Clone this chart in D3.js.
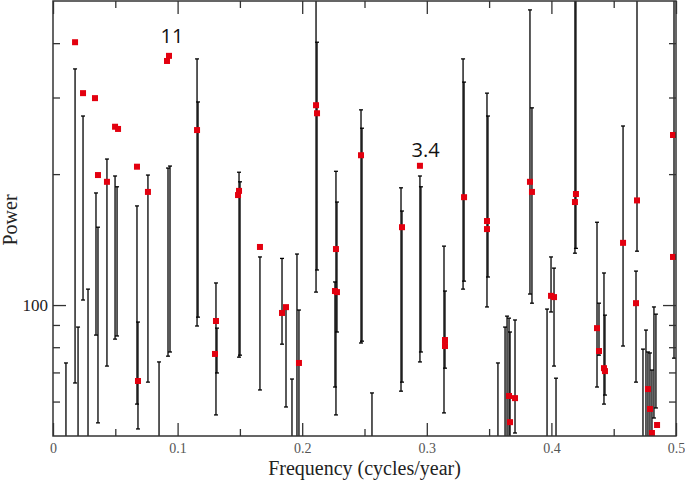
<!doctype html>
<html lang="en">
  <head>
    <meta charset="utf-8">
    <title>Power spectrum</title>
    <style>
      body { margin: 0; background: #fff; }
      .bar { stroke: #000; stroke-width: 1.3; }
      .pt { fill: #e3000f; }
      .tick text { font-family: "Liberation Serif", "DejaVu Serif", serif; }
    </style>
  </head>
  <body>
    <div id="chart"></div>
    <script src="https://cdn.jsdelivr.net/npm/d3@7/dist/d3.min.js"></script>
    <script>
      // red points: frequency (cycles/year) and power
      const pointFreq = [0.0177, 0.0241, 0.0337, 0.0498, 0.0522, 0.0915, 0.0931, 0.1156, 0.0361, 0.0433,
                         0.0674, 0.0762, 0.0682, 0.1308, 0.1300, 0.1493, 0.1485, 0.1661, 0.1838, 0.1870,
                         0.1974, 0.2271, 0.2263, 0.2279, 0.2472, 0.2801, 0.2945, 0.2111, 0.2119, 0.3146,
                         0.3146, 0.3299, 0.3483, 0.3483, 0.3828, 0.3844, 0.4197, 0.4189, 0.4575, 0.4687,
                         0.4976, 0.3997, 0.4021, 0.4679, 0.4976, 0.3660, 0.3668, 0.3708, 0.4366, 0.4382,
                         0.4422, 0.4430, 0.4775, 0.4791, 0.4807, 0.4848];
      const pointPower = [402, 307, 299, 257, 254, 364, 374, 252.5, 199, 192,
                          208, 182, 66.9, 91.9, 77.2, 183, 179, 136, 95.9, 98.9,
                          73.6, 134.5, 107.7, 107.1, 221, 151, 209, 288, 276, 83.1,
                          80.5, 177, 156, 149.5, 192, 182, 180, 172.5, 139, 174,
                          129, 105, 104.3, 101, 246, 61.8, 53.8, 61.1, 88.5, 78.4,
                          71.6, 70.5, 64.1, 57.7, 50.8, 53];

      // error bars: frequency, lower and upper power
      const barFreq = [0.0177, 0.0241, 0.0281, 0.0345, 0.0361, 0.0433, 0.0498, 0.0514, 0.0104, 0.0201,
                       0.0674, 0.0682, 0.0762, 0.0851, 0.0923, 0.0939, 0.1156, 0.1164, 0.1308, 0.1316,
                       0.1493, 0.1501, 0.1661, 0.1838, 0.1870, 0.1918, 0.1958, 0.1974, 0.2111, 0.2119,
                       0.2263, 0.2271, 0.2279, 0.2472, 0.2480, 0.2560, 0.2793, 0.2801, 0.2945, 0.2953,
                       0.3138, 0.3146, 0.3291, 0.3299, 0.3483, 0.3491, 0.3828, 0.3844, 0.4189, 0.4197,
                       0.4575, 0.4687, 0.4679, 0.4984, 0.3965, 0.3997, 0.4021, 0.4037, 0.4366, 0.4382,
                       0.4422, 0.4430, 0.4823, 0.4839, 0.4735, 0.4759, 0.4775, 0.4791, 0.4807, 0.3571,
                       0.3628, 0.3644, 0.3660, 0.3668, 0.3708];
      const barLow = [66.2, 102.7, 40, 85.3, 53.6, 72.4, 83.5, 84.9, 40, 40,
                      59.2, 51.9, 66.5, 40, 76.3, 78, 89.5, 93.8, 55.9, 69.8,
                      75.9, 76.7, 63.8, 81.3, 58.3, 40, 40, 40, 107.1, 120.4,
                      64.8, 55.9, 86.7, 81.8, 82.6, 40, 63.4, 66.5, 74, 78,
                      56.5, 71.6, 108.8, 113.5, 99, 116, 106, 101, 131.6, 135,
                      80.5, 133, 66.5, 75.5, 40, 96.4, 72.4, 40, 64.8, 76.7,
                      59.2, 62.1, 55, 58, 40, 40, 40, 40, 40, 40,
                      40, 40, 40, 40, 50.8];
      const barHigh = [349, 272, 108.8, 181, 151, 216.6, 198, 187, 73.6, 89,
                       169, 91.4, 199, 74, 206.5, 208.7, 368, 293, 112.4, 88.5,
                       202, 192, 129, 128, 99, 67.6, 131, 97.4, 600, 402,
                       113, 203, 172.5, 281, 255, 62.8, 186, 164.5, 198, 187,
                       136.6, 107.7, 368, 325.5, 307, 272, 477, 284, 600, 600,
                       258, 600, 119.7, 600, 97.9, 129, 121.6, 67.9, 155, 101,
                       118.5, 94.8, 99, 95.3, 79.2, 87.6, 78, 77.6, 70.9, 73.6,
                       89, 94.3, 93.3, 86.7, 92.4];

      // axis ticks
      const xMajor = [0, 0.1, 0.2, 0.3, 0.4, 0.5];
      const xMinor = [0.05, 0.15, 0.25, 0.35, 0.45];
      const yMajor = [100];
      const yMinor = [60, 70, 80, 90, 200, 300, 400];

      // text annotations
      const noteText = ["11", "3.4"];
      const noteFreq = [0.0955, 0.299];
      const notePower = [400, 219];

      const w = 685, h = 481;
      const m = { left: 53, right: 676, top: 1, bottom: 436 };

      const x = d3.scaleLinear().domain([0, 0.5]).range([m.left, m.right]);
      const y = d3.scaleLog().domain([50, 500]).range([m.bottom, m.top]);

      const svg = d3.select("#chart").append("svg")
        .attr("width", w)
        .attr("height", h);

      svg.append("clipPath").attr("id", "plotclip")
        .append("rect")
        .attr("x", m.left).attr("y", m.top)
        .attr("width", m.right - m.left).attr("height", m.bottom - m.top);

      const plot = svg.append("g").attr("clip-path", "url(#plotclip)");

      const bars = barFreq.map((f, i) => ({ f: f, lo: barLow[i], hi: barHigh[i] }));

      plot.selectAll(".bar-line")
        .data(bars)
        .enter()
        .append("line")
        .attr("class", "bar")
        .attr("x1", d => x(d.f)).attr("x2", d => x(d.f))
        .attr("y1", d => y(d.lo)).attr("y2", d => y(d.hi));

      // caps
      ["lo", "hi"].forEach(k => {
        plot.selectAll(".cap-" + k)
          .data(bars)
          .enter()
          .append("line")
          .attr("class", "bar")
          .attr("x1", d => x(d.f) - 2).attr("x2", d => x(d.f) + 2)
          .attr("y1", d => y(d[k])).attr("y2", d => y(d[k]));
      });

      plot.selectAll(".pt")
        .data(pointFreq.map((f, i) => [f, pointPower[i]]))
        .enter()
        .append("rect")
        .attr("class", "pt")
        .attr("x", d => x(d[0]) - 3)
        .attr("y", d => y(d[1]) - 3)
        .attr("width", 6)
        .attr("height", 6);

      // axes with inward ticks
      const fmt = d => String(d);
      const axisStyle = g => {
        g.select(".domain").remove();
        g.selectAll(".tick line").attr("stroke", "#333").attr("stroke-width", 1.3);
      };

      svg.append("g")
        .attr("transform", `translate(0,${m.bottom})`)
        .call(d3.axisBottom(x).tickValues(xMajor).tickSize(-13).tickPadding(7).tickFormat(fmt))
        .call(axisStyle)
        .call(g => g.selectAll(".tick text").attr("font-size", 14).attr("fill", "#555"));
      svg.append("g")
        .attr("transform", `translate(0,${m.bottom})`)
        .call(d3.axisBottom(x).tickValues(xMinor).tickSize(-7).tickFormat(""))
        .call(axisStyle);
      svg.append("g")
        .attr("transform", `translate(0,${m.top})`)
        .call(d3.axisTop(x).tickValues(xMajor).tickSize(-13).tickFormat(""))
        .call(axisStyle);
      svg.append("g")
        .attr("transform", `translate(0,${m.top})`)
        .call(d3.axisTop(x).tickValues(xMinor).tickSize(-7).tickFormat(""))
        .call(axisStyle);

      svg.append("g")
        .attr("transform", `translate(${m.left},0)`)
        .call(d3.axisLeft(y).tickValues(yMajor).tickSize(-13).tickPadding(5).tickFormat(d3.format("d")))
        .call(axisStyle)
        .call(g => g.selectAll(".tick text").attr("font-size", 17).attr("fill", "#222"));
      svg.append("g")
        .attr("transform", `translate(${m.left},0)`)
        .call(d3.axisLeft(y).tickValues(yMinor).tickSize(-7).tickFormat(""))
        .call(axisStyle);
      svg.append("g")
        .attr("transform", `translate(${m.right},0)`)
        .call(d3.axisRight(y).tickValues(yMajor).tickSize(-13).tickFormat(""))
        .call(axisStyle);
      svg.append("g")
        .attr("transform", `translate(${m.right},0)`)
        .call(d3.axisRight(y).tickValues(yMinor).tickSize(-7).tickFormat(""))
        .call(axisStyle);

      // frame
      svg.append("rect")
        .attr("x", m.left).attr("y", m.top)
        .attr("width", m.right - m.left).attr("height", m.bottom - m.top)
        .attr("fill", "none")
        .attr("stroke", "#333")
        .attr("stroke-width", 1.5);

      // axis titles
      svg.append("text")
        .attr("x", (m.left + m.right) / 2)
        .attr("y", 475)
        .attr("text-anchor", "middle")
        .attr("font-family", "Liberation Serif, serif")
        .attr("font-size", 20)
        .attr("fill", "#222")
        .text("Frequency (cycles/year)");

      svg.append("text")
        .attr("transform", "translate(17,220) rotate(-90)")
        .attr("text-anchor", "middle")
        .attr("font-family", "Liberation Serif, serif")
        .attr("font-size", 20)
        .attr("fill", "#222")
        .text("Power");

      // annotations
      svg.selectAll(".note")
        .data(noteText)
        .enter()
        .append("text")
        .attr("class", "note")
        .attr("x", (d, i) => x(noteFreq[i]))
        .attr("y", (d, i) => y(notePower[i]))
        .attr("text-anchor", "middle")
        .attr("font-family", "Open Sans, sans-serif")
        .attr("font-size", 20)
        .attr("fill", "#111")
        .text(d => d);
    </script>
  </body>
</html>
